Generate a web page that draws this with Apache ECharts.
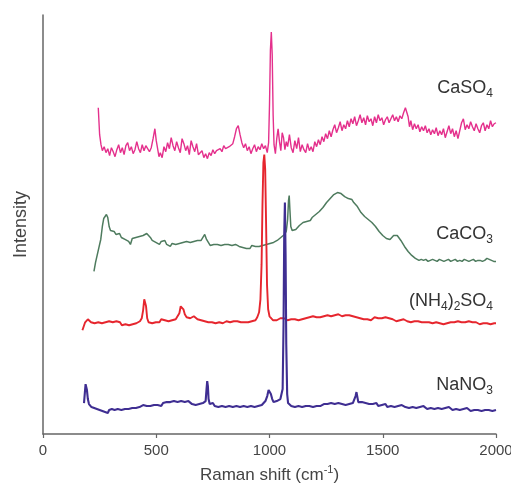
<!DOCTYPE html>
<html>
<head>
<meta charset="utf-8">
<title>Raman spectra</title>
<script src="https://cdn.jsdelivr.net/npm/echarts@6/dist/echarts.min.js"></script>
<style>
  html, body { margin: 0; padding: 0; background: #fff; }
  #chart { width: 511px; height: 483px; }
</style>
</head>
<body>
<div id="chart"></div>
<script>
// x axis ticks (Raman shift, cm-1)
const xTicks = [0, 500, 1000, 1500, 2000]

// spectra: [raman shift, intensity (arbitrary, offset per trace)]
const caSO4 = [
  [244, 327], [250, 300], [256, 290], [262, 284], [270, 288], [278, 282], [286, 286], [294, 279], [302, 287], [310, 283],
  [318, 278], [326, 285], [334, 290], [342, 282], [350, 287], [358, 280], [366, 289], [374, 292], [382, 284], [390, 288],
  [398, 281], [406, 285], [414, 293], [422, 286], [430, 282], [438, 290], [446, 284], [454, 289], [462, 291], [470, 283],
  [478, 287], [486, 296], [494, 306], [500, 294], [506, 286], [512, 278], [518, 282], [526, 277], [534, 288], [542, 283],
  [550, 292], [558, 286], [566, 297], [574, 289], [582, 284], [590, 293], [598, 287], [606, 282], [614, 296], [622, 291],
  [630, 284], [638, 289], [646, 280], [654, 294], [662, 288], [670, 283], [678, 291], [686, 280], [694, 278], [702, 284],
  [710, 277], [718, 281], [726, 276], [734, 282], [742, 279], [750, 285], [758, 281], [766, 284], [774, 282], [782, 286],
  [790, 283], [798, 289], [806, 286], [814, 284], [822, 288], [830, 286], [838, 291], [846, 298], [854, 306], [862, 309],
  [870, 300], [878, 292], [886, 287], [894, 291], [902, 284], [910, 288], [918, 281], [926, 286], [934, 290], [942, 283],
  [950, 288], [958, 285], [966, 291], [974, 286], [982, 289], [990, 282], [996, 292], [1000, 330], [1004, 385], [1008, 403],
  [1012, 380], [1016, 320], [1020, 290], [1026, 281], [1032, 296], [1038, 306], [1044, 293], [1050, 284], [1056, 302], [1062, 297],
  [1068, 285], [1074, 293], [1080, 288], [1088, 300], [1096, 287], [1104, 282], [1112, 294], [1120, 286], [1128, 297], [1136, 283],
  [1144, 290], [1152, 285], [1160, 282], [1168, 291], [1176, 284], [1184, 288], [1192, 283], [1200, 293], [1208, 288], [1216, 295],
  [1224, 290], [1232, 298], [1240, 293], [1248, 301], [1256, 296], [1264, 304], [1272, 298], [1280, 305], [1288, 310], [1296, 302],
  [1304, 307], [1312, 313], [1320, 304], [1328, 310], [1336, 306], [1344, 314], [1352, 308], [1360, 316], [1368, 311], [1376, 318],
  [1384, 309], [1392, 314], [1400, 320], [1408, 312], [1416, 317], [1424, 310], [1432, 319], [1440, 313], [1448, 316], [1456, 309],
  [1464, 318], [1472, 312], [1480, 320], [1488, 314], [1496, 317], [1504, 310], [1512, 315], [1520, 318], [1528, 312], [1536, 316],
  [1544, 320], [1552, 314], [1560, 318], [1568, 313], [1576, 319], [1584, 316], [1592, 322], [1600, 327], [1606, 329], [1612, 318],
  [1618, 308], [1624, 314], [1632, 305], [1640, 311], [1648, 306], [1656, 310], [1664, 303], [1672, 308], [1680, 304], [1688, 309],
  [1696, 302], [1704, 306], [1712, 300], [1720, 305], [1728, 301], [1736, 307], [1744, 299], [1752, 304], [1760, 300], [1768, 306],
  [1776, 297], [1784, 303], [1792, 309], [1800, 301], [1808, 306], [1816, 298], [1824, 304], [1832, 296], [1840, 294], [1848, 312],
  [1856, 316], [1864, 305], [1872, 310], [1880, 306], [1888, 313], [1896, 308], [1904, 304], [1912, 311], [1920, 306], [1928, 302],
  [1936, 309], [1944, 312], [1952, 304], [1960, 310], [1968, 306], [1976, 314], [1984, 308], [1992, 311], [2000, 312]
]

const caCO3 = [
  [225, 163], [232, 172], [240, 180], [248, 188], [255, 195], [262, 208], [268, 216], [274, 218], [280, 220], [286, 217],
  [292, 208], [298, 204], [306, 202], [314, 203], [322, 200], [330, 199], [338, 201], [346, 197], [354, 199], [362, 195],
  [370, 197], [378, 193], [386, 190], [394, 196], [402, 194], [410, 197], [418, 196], [426, 198], [434, 197], [442, 199],
  [450, 200], [458, 201], [466, 199], [474, 197], [482, 194], [490, 195], [498, 192], [506, 194], [514, 190], [522, 193],
  [530, 191], [538, 194], [546, 190], [554, 189], [562, 188], [570, 191], [578, 189], [586, 190], [594, 188], [602, 191],
  [610, 190], [618, 192], [626, 190], [634, 193], [642, 191], [650, 192], [658, 190], [666, 193], [674, 191], [682, 194],
  [690, 192], [698, 194], [706, 197], [714, 200], [722, 195], [730, 192], [738, 189], [746, 191], [754, 190], [762, 192],
  [770, 190], [778, 191], [786, 189], [794, 191], [802, 190], [810, 192], [818, 190], [826, 191], [834, 189], [842, 191],
  [850, 190], [858, 191], [866, 188], [874, 190], [882, 187], [890, 189], [898, 186], [906, 188], [914, 186], [922, 189],
  [930, 187], [938, 188], [946, 186], [954, 188], [962, 187], [970, 189], [978, 188], [986, 190], [994, 189], [1002, 191],
  [1010, 190], [1018, 192], [1026, 193], [1034, 194], [1042, 196], [1050, 197], [1058, 199], [1066, 200], [1074, 203], [1080, 215],
  [1084, 234], [1087, 239], [1090, 225], [1094, 208], [1100, 204], [1108, 206], [1116, 205], [1124, 207], [1132, 209], [1140, 210],
  [1148, 212], [1156, 211], [1164, 213], [1172, 215], [1180, 214], [1188, 217], [1196, 218], [1204, 220], [1212, 221], [1220, 223],
  [1228, 225], [1236, 227], [1244, 229], [1252, 232], [1260, 234], [1268, 236], [1276, 238], [1284, 240], [1292, 241], [1300, 242],
  [1308, 240], [1316, 241], [1324, 239], [1332, 238], [1340, 237], [1348, 236], [1356, 234], [1364, 235], [1372, 232], [1380, 230],
  [1388, 228], [1396, 225], [1404, 222], [1412, 221], [1420, 218], [1428, 216], [1436, 215], [1444, 213], [1452, 212], [1460, 210],
  [1468, 208], [1476, 206], [1484, 203], [1492, 201], [1500, 199], [1508, 198], [1516, 196], [1524, 197], [1532, 195], [1540, 196],
  [1548, 199], [1556, 200], [1564, 199], [1572, 197], [1580, 194], [1588, 191], [1596, 188], [1604, 186], [1612, 183], [1620, 181],
  [1628, 179], [1636, 177], [1644, 176], [1652, 175], [1660, 174], [1670, 175], [1680, 174], [1690, 175], [1700, 173], [1710, 174],
  [1720, 175], [1730, 174], [1740, 173], [1750, 175], [1760, 174], [1770, 173], [1780, 174], [1790, 175], [1800, 173], [1810, 174],
  [1820, 175], [1830, 173], [1840, 174], [1850, 173], [1860, 175], [1870, 174], [1880, 173], [1890, 174], [1900, 175], [1910, 173],
  [1920, 174], [1930, 174], [1940, 173], [1950, 174], [1960, 176], [1970, 175], [1980, 174], [1990, 173], [2000, 173]
]

const nh4SO4 = [
  [174, 104], [180, 108], [186, 112], [192, 110], [198, 115], [204, 113], [212, 112], [220, 114], [228, 111], [236, 113],
  [244, 112], [252, 114], [260, 111], [268, 113], [276, 112], [284, 110], [292, 113], [300, 111], [308, 112], [316, 110],
  [324, 113], [332, 111], [340, 112], [348, 109], [356, 111], [364, 110], [372, 112], [380, 109], [388, 111], [396, 110],
  [404, 112], [412, 111], [420, 112], [428, 113], [436, 116], [442, 124], [447, 135], [451, 137], [455, 128], [460, 116],
  [466, 112], [474, 114], [482, 111], [490, 113], [498, 112], [506, 114], [514, 112], [522, 115], [530, 113], [538, 114],
  [546, 116], [554, 113], [562, 115], [570, 114], [578, 116], [586, 115], [594, 117], [602, 121], [608, 128], [614, 130],
  [620, 125], [626, 120], [634, 117], [642, 118], [650, 116], [658, 117], [666, 118], [674, 116], [682, 115], [690, 116],
  [698, 114], [706, 115], [714, 113], [722, 114], [730, 112], [738, 113], [746, 112], [754, 114], [762, 111], [770, 113],
  [778, 112], [786, 113], [794, 111], [802, 112], [810, 113], [818, 111], [826, 112], [834, 111], [842, 113], [850, 112],
  [858, 113], [866, 111], [874, 112], [882, 113], [890, 112], [898, 113], [906, 112], [914, 114], [922, 113], [930, 115],
  [938, 114], [946, 117], [954, 122], [960, 135], [965, 170], [969, 230], [973, 272], [977, 280], [981, 265], [985, 210],
  [989, 150], [994, 125], [1000, 118], [1008, 116], [1016, 114], [1024, 116], [1032, 114], [1040, 115], [1048, 116], [1056, 114],
  [1064, 116], [1072, 115], [1080, 114], [1088, 116], [1096, 115], [1104, 117], [1112, 115], [1120, 116], [1128, 114], [1136, 116],
  [1144, 115], [1152, 117], [1160, 116], [1168, 115], [1176, 117], [1184, 116], [1192, 118], [1200, 116], [1208, 117], [1216, 115],
  [1224, 117], [1232, 116], [1240, 118], [1248, 117], [1256, 119], [1264, 117], [1272, 118], [1280, 117], [1288, 119], [1296, 118],
  [1304, 120], [1312, 119], [1320, 118], [1328, 120], [1336, 119], [1344, 121], [1352, 119], [1360, 120], [1368, 118], [1376, 119],
  [1384, 117], [1392, 118], [1400, 116], [1408, 117], [1416, 115], [1424, 117], [1432, 115], [1440, 116], [1448, 114], [1456, 116],
  [1464, 117], [1472, 115], [1480, 116], [1488, 114], [1496, 116], [1504, 115], [1512, 117], [1520, 115], [1528, 116], [1536, 114],
  [1544, 115], [1552, 114], [1560, 113], [1568, 115], [1576, 114], [1584, 113], [1592, 115], [1600, 114], [1608, 113], [1616, 114],
  [1624, 112], [1632, 114], [1640, 113], [1648, 115], [1656, 113], [1664, 114], [1672, 112], [1680, 113], [1688, 112], [1696, 114],
  [1704, 112], [1712, 113], [1720, 111], [1728, 113], [1736, 112], [1744, 113], [1752, 111], [1760, 112], [1768, 110], [1776, 112],
  [1784, 111], [1792, 113], [1800, 112], [1808, 110], [1816, 112], [1824, 111], [1832, 113], [1840, 111], [1848, 112], [1856, 110],
  [1864, 112], [1872, 111], [1880, 113], [1888, 111], [1896, 112], [1904, 110], [1912, 112], [1920, 111], [1928, 110], [1936, 112],
  [1944, 111], [1952, 113], [1960, 111], [1968, 112], [1976, 110], [1984, 112], [1992, 111], [2000, 111]
]

const naNO3 = [
  [181, 31], [185, 42], [188, 50], [191, 52], [194, 44], [198, 35], [203, 30], [208, 29], [214, 27], [220, 28],
  [226, 26], [232, 27], [238, 25], [244, 26], [250, 24], [256, 26], [262, 23], [268, 25], [274, 22], [280, 24],
  [286, 21], [292, 24], [298, 22], [304, 25], [310, 23], [316, 24], [322, 22], [330, 25], [338, 23], [346, 24],
  [354, 22], [362, 25], [370, 23], [378, 25], [386, 24], [394, 26], [402, 24], [410, 26], [418, 25], [426, 27],
  [434, 26], [442, 29], [450, 31], [458, 28], [466, 30], [474, 28], [482, 30], [490, 29], [498, 31], [506, 29],
  [514, 30], [522, 28], [530, 31], [538, 30], [546, 32], [554, 30], [562, 32], [570, 31], [578, 33], [586, 31],
  [594, 32], [602, 31], [610, 33], [618, 31], [626, 32], [634, 30], [642, 33], [650, 31], [658, 30], [666, 32],
  [674, 29], [682, 31], [690, 30], [698, 29], [706, 31], [712, 30], [718, 33], [722, 45], [725, 53], [728, 48],
  [731, 35], [736, 30], [742, 29], [750, 31], [758, 28], [766, 30], [774, 27], [782, 29], [790, 28], [798, 30],
  [806, 27], [814, 29], [822, 28], [830, 30], [838, 27], [846, 29], [854, 28], [862, 30], [870, 27], [878, 29],
  [886, 28], [894, 30], [902, 27], [910, 29], [918, 28], [926, 30], [934, 27], [942, 29], [950, 28], [958, 30],
  [966, 29], [974, 31], [982, 33], [990, 38], [996, 44], [1000, 45], [1006, 40], [1012, 35], [1018, 32], [1024, 31],
  [1032, 33], [1040, 34], [1048, 35], [1054, 37], [1058, 45], [1062, 110], [1065, 200], [1068, 232], [1071, 180], [1074, 90],
  [1078, 40], [1082, 31], [1088, 29], [1096, 28], [1104, 30], [1112, 27], [1120, 29], [1128, 28], [1136, 30], [1144, 27],
  [1152, 29], [1160, 28], [1168, 30], [1176, 28], [1184, 29], [1192, 27], [1200, 29], [1208, 28], [1216, 30], [1224, 28],
  [1232, 29], [1240, 30], [1248, 28], [1256, 30], [1264, 29], [1272, 31], [1280, 29], [1288, 30], [1296, 28], [1304, 31],
  [1312, 29], [1320, 30], [1328, 32], [1336, 29], [1344, 31], [1352, 30], [1360, 32], [1368, 31], [1374, 33], [1380, 38],
  [1384, 42], [1388, 37], [1392, 32], [1400, 31], [1408, 32], [1416, 30], [1424, 31], [1432, 29], [1440, 30], [1448, 28],
  [1456, 30], [1464, 29], [1472, 31], [1480, 28], [1488, 30], [1496, 29], [1504, 28], [1512, 30], [1520, 27], [1528, 29],
  [1536, 28], [1544, 30], [1552, 27], [1560, 29], [1568, 28], [1576, 27], [1584, 29], [1592, 28], [1600, 27], [1608, 29],
  [1616, 26], [1624, 28], [1632, 27], [1640, 29], [1648, 26], [1656, 28], [1664, 27], [1672, 26], [1680, 28], [1688, 27],
  [1696, 25], [1704, 27], [1712, 26], [1720, 28], [1728, 25], [1736, 27], [1744, 26], [1752, 28], [1760, 25], [1768, 27],
  [1776, 26], [1784, 25], [1792, 27], [1800, 26], [1808, 24], [1816, 26], [1824, 25], [1832, 27], [1840, 24], [1848, 26],
  [1856, 25], [1864, 24], [1872, 26], [1880, 25], [1888, 23], [1896, 25], [1904, 24], [1912, 26], [1920, 24], [1928, 25],
  [1936, 23], [1944, 25], [1952, 24], [1960, 26], [1968, 24], [1976, 25], [1984, 23], [1992, 25], [2000, 24]
]

// trace labels, rich text for the subscripts
const labelTexts = {
  caSO4: '{a|CaSO}{s|4}',
  caCO3: '{a|CaCO}{s|3}',
  nh4SO4: '{a|(NH}{s|4}{a|)}{s|2}{a|SO}{s|4}',
  naNO3: '{a|NaNO}{s|3}'
}

const textColor = '#333'
const font = 'Liberation Sans, Arial, sans-serif'

function traceLabel (text, top) {
  return {
    type: 'text',
    right: 18,
    top: top,
    silent: true,
    style: {
      text: text,
      fill: textColor,
      rich: {
        a: { fontSize: 18, fontFamily: font, color: textColor, lineHeight: 24 },
        s: { fontSize: 12, fontFamily: font, color: textColor, lineHeight: 24, verticalAlign: 'bottom' }
      }
    }
  }
}

function lineSeries (name, data, color, width) {
  return {
    name: name,
    type: 'line',
    data: data,
    showSymbol: false,
    symbol: 'none',
    lineStyle: { color: color, width: width },
    itemStyle: { color: color },
    emphasis: { disabled: true },
    z: 2
  }
}

const chart = echarts.init(document.getElementById('chart'))
chart.setOption({
  animation: false,
  backgroundColor: '#fff',
  grid: { left: 43, right: 15, top: 15, bottom: 49, containLabel: false, outerBoundsMode: 'none' },
  xAxis: {
    type: 'value',
    min: xTicks[0],
    max: xTicks[xTicks.length - 1],
    interval: xTicks[1] - xTicks[0],
    splitLine: { show: false },
    axisLine: { lineStyle: { color: '#666', width: 1.5 } },
    axisTick: { show: true, length: 4, lineStyle: { color: '#666', width: 1.2 } },
    axisLabel: {
      fontSize: 15,
      color: '#444',
      fontFamily: font,
      margin: 9,
      formatter: function (v) { return String(v) }
    },
    name: 'Raman shift (cm{sup|-1})',
    nameLocation: 'middle',
    nameGap: 30,
    nameTextStyle: {
      fontSize: 17,
      color: '#444',
      fontFamily: font,
      lineHeight: 22,
      rich: {
        sup: { fontSize: 11, color: '#444', fontFamily: font, lineHeight: 22, verticalAlign: 'top' }
      }
    }
  },
  yAxis: {
    type: 'value',
    min: 0,
    max: 420,
    splitLine: { show: false },
    axisLine: { show: true, lineStyle: { color: '#666', width: 1.5 } },
    axisTick: { show: false },
    axisLabel: { show: false },
    name: 'Intensity',
    nameLocation: 'middle',
    nameGap: 13,
    nameTextStyle: { fontSize: 18, color: '#444', fontFamily: font }
  },
  series: [
    lineSeries('CaCO3', caCO3, '#4e7b5e', 1.5),
    lineSeries('(NH4)2SO4', nh4SO4, '#e6262e', 1.9),
    lineSeries('NaNO3', naNO3, '#3f2e92', 2.1),
    lineSeries('CaSO4', caSO4, '#e4308c', 1.4)
  ],
  graphic: [
    traceLabel(labelTexts.caSO4, 79),
    traceLabel(labelTexts.caCO3, 225),
    traceLabel(labelTexts.nh4SO4, 292),
    traceLabel(labelTexts.naNO3, 376)
  ]
})
</script>
</body>
</html>
